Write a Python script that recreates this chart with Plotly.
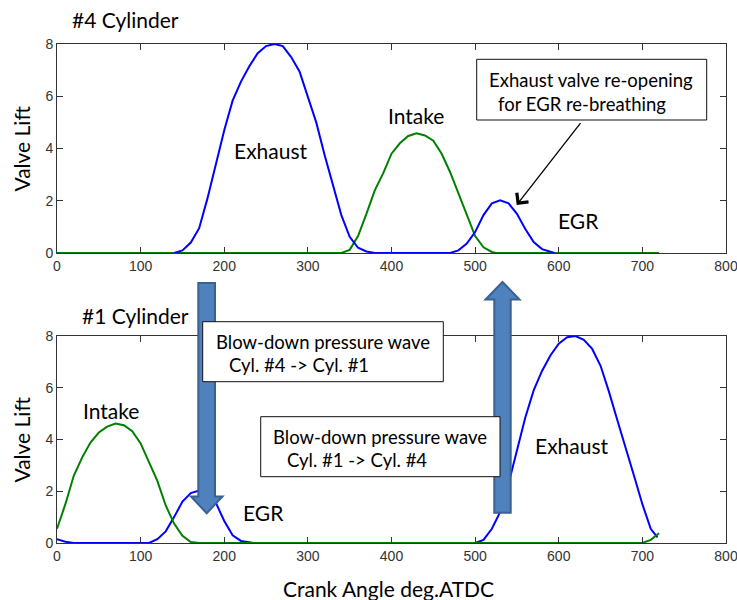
import plotly.graph_objects as go

# ---------------- valve lift data (crank angle in deg, lift in mm) ----------------
x_ticks = [0, 100, 200, 300, 400, 500, 600, 700, 800]
y_ticks = [0, 2, 4, 6, 8]

# Cylinder #4
c4_exh_deg = [140, 150, 160, 170, 180, 190, 200, 210, 220, 230, 240, 250, 260,
              270, 280, 290, 300, 310, 320, 330, 340, 350, 360, 370, 380]
c4_exh_lift = [0.0, 0.1, 0.4, 0.95, 2.1, 3.4, 4.7, 5.83, 6.56, 7.15, 7.65, 7.92, 8.0,
               7.92, 7.5, 6.95, 6.0, 5.0, 3.75, 2.6, 1.45, 0.62, 0.2, 0.06, 0.0]
c4_egr_deg = [470, 480, 490, 500, 510, 520, 530, 540, 550, 560, 570, 580, 590, 595]
c4_egr_lift = [0.0, 0.1, 0.36, 0.8, 1.45, 1.9, 2.02, 1.9, 1.5, 0.92, 0.42, 0.15, 0.05, 0.0]
c4_int_deg = [0, 340, 350, 360, 370, 380, 390, 400, 410, 420, 430, 440, 450,
              460, 470, 480, 490, 500, 510, 520, 525, 720]
c4_int_lift = [0.0, 0.0, 0.12, 0.65, 1.5, 2.4, 3.05, 3.8, 4.2, 4.48, 4.58, 4.5, 4.3,
               3.8, 3.1, 2.3, 1.45, 0.65, 0.22, 0.04, 0.0, 0.0]

# Cylinder #1
c1_tail_deg = [0, 10, 20]
c1_tail_lift = [0.15, 0.05, 0.0]
c1_egr_deg = [110, 120, 130, 140, 150, 160, 170, 180, 190, 200, 210, 220, 230, 235]
c1_egr_lift = [0.0, 0.15, 0.45, 1.0, 1.6, 1.93, 2.03, 1.9, 1.55, 0.85, 0.3, 0.08, 0.03, 0.0]
c1_exh_deg = [500, 510, 520, 530, 540, 550, 560, 570, 580, 590, 600, 610, 620,
              630, 640, 650, 660, 670, 680, 690, 700, 710, 718]
c1_exh_lift = [0.0, 0.12, 0.55, 1.2, 2.3, 3.55, 4.85, 5.9, 6.65, 7.25, 7.7, 7.95, 8.0,
               7.85, 7.5, 6.85, 5.85, 4.75, 3.7, 2.6, 1.5, 0.55, 0.22]
c1_int_deg = [0, 10, 20, 30, 40, 50, 60, 70, 80, 90, 100, 110, 120, 130, 140,
              150, 160, 170, 700, 710, 720]
c1_int_lift = [0.55, 1.5, 2.6, 3.3, 3.88, 4.27, 4.5, 4.62, 4.55, 4.32, 3.85, 3.15, 2.4,
               1.45, 0.75, 0.28, 0.04, 0.0, 0.0, 0.12, 0.38]

BLUE = "#0000FF"
GREEN = "#008000"
ARROW_FILL = "#4F81BD"
ARROW_EDGE = "#3A6190"
TEXT_FONT = "Lato"
TICK_FONT = "Liberation Sans"

W, H = 737, 600
ML, MR, MT, MB = 57, 11, 44, 57
PW, PH = W - ML - MR, H - MT - MB


def px(x):
    """pixel column -> paper x"""
    return (x - ML) / PW


def py(y):
    """pixel row -> paper y"""
    return (H - MB - y) / PH


fig = go.Figure()

fig.add_trace(go.Scatter(x=c4_int_deg, y=c4_int_lift, mode="lines",
                         line=dict(color=GREEN, width=2), xaxis="x", yaxis="y"))
fig.add_trace(go.Scatter(x=c4_exh_deg + c4_egr_deg, y=c4_exh_lift + c4_egr_lift,
                         mode="lines", line=dict(color=BLUE, width=2),
                         xaxis="x", yaxis="y"))
fig.add_trace(go.Scatter(x=c1_tail_deg + c1_egr_deg + c1_exh_deg,
                         y=c1_tail_lift + c1_egr_lift + c1_exh_lift,
                         mode="lines", line=dict(color=BLUE, width=2),
                         xaxis="x2", yaxis="y2"))
fig.add_trace(go.Scatter(x=c1_int_deg, y=c1_int_lift, mode="lines",
                         line=dict(color=GREEN, width=2), xaxis="x2", yaxis="y2"))

axis_common = dict(ticks="inside", ticklen=6, tickcolor="#333", tickwidth=1,
                   showline=True, linecolor="#333", linewidth=1, mirror="ticks",
                   showgrid=False, zeroline=False, automargin=False,
                   tickfont=dict(family=TICK_FONT, size=14, color="#333"))

top_dom = [py(253), py(44)]
bot_dom = [py(543), py(336)]

fig.update_layout(
    width=W, height=H, showlegend=False,
    margin=dict(l=ML, r=MR, t=MT, b=MB, autoexpand=False),
    paper_bgcolor="white", plot_bgcolor="white",
    xaxis=dict(range=[0, 800], tickvals=x_ticks, domain=[0, 1], anchor="y",
               ticklabeloverflow="allow", **axis_common),
    yaxis=dict(range=[0, 8], tickvals=y_ticks, domain=top_dom, anchor="x", **axis_common),
    xaxis2=dict(range=[0, 800], tickvals=x_ticks, domain=[0, 1], anchor="y2",
                ticklabeloverflow="allow", **axis_common),
    yaxis2=dict(range=[0, 8], tickvals=y_ticks, domain=bot_dom, anchor="x2", **axis_common),
)


def poly(points):
    return "M " + " L ".join(f"{px(a):.5f},{py(b):.5f}" for a, b in points) + " Z"


shapes = [
    # blow-down wave #4 -> #1 (downward block arrow)
    dict(type="path", xref="paper", yref="paper", layer="above",
         path=poly([(198.3, 283), (215, 283), (215, 496.5), (222.5, 496.5),
                    (206.7, 513.3), (191, 496.5), (198.3, 496.5)]),
         fillcolor=ARROW_FILL, line=dict(color=ARROW_EDGE, width=2)),
    # blow-down wave #1 -> #4 (upward block arrow)
    dict(type="path", xref="paper", yref="paper", layer="above",
         path=poly([(502.5, 282), (519.5, 299.5), (510.7, 299.5), (510.7, 512.7),
                    (494.3, 512.7), (494.3, 299.5), (485.5, 299.5)]),
         fillcolor=ARROW_FILL, line=dict(color=ARROW_EDGE, width=2)),
]


def box(x0, y0, x1, y1):
    return dict(type="rect", xref="paper", yref="paper", layer="above",
                x0=px(x0), x1=px(x1), y0=py(y1), y1=py(y0),
                fillcolor="white", line=dict(color="#111", width=1))


shapes += [box(476.7, 59.3, 706.7, 120), box(202.7, 321.7, 443.3, 381.7),
           box(260.7, 416.7, 500, 476.7)]
fig.update_layout(shapes=shapes)


def label(text, x, y, size=21, angle=0, xanchor="left"):
    return dict(text=text, xref="paper", yref="paper", x=px(x), y=py(y),
                xanchor=xanchor, yanchor="middle", showarrow=False,
                textangle=angle, borderpad=0, borderwidth=0,
                font=dict(family=TEXT_FONT, size=size, color="black"))


annotations = [
    label("#4 Cylinder", 72, 20),
    label("#1 Cylinder", 82, 315.8),
    label("Valve Lift", 21, 148.5, angle=-90, xanchor="center"),
    label("Valve Lift", 21, 439.5, angle=-90, xanchor="center"),
    label("Crank Angle deg.ATDC", 283, 588),
    label("Exhaust", 234, 150.8),
    label("Intake", 388, 115.5),
    label("EGR", 558.3, 220.3),
    label("Intake", 83, 410),
    label("EGR", 243.3, 512.5),
    label("Exhaust", 535, 445.3),
    label("Exhaust valve re-opening", 489.3, 80, size=18.5),
    label("for EGR re-breathing", 498, 104, size=18.5),
    label("Blow-down pressure wave", 216, 341.5, size=18.5),
    label("Cyl. #4 -> Cyl. #1", 229.3, 365, size=18.5),
    label("Blow-down pressure wave", 273.3, 436.5, size=18.5),
    label("Cyl. #1 -> Cyl. #4", 286.7, 460, size=18.5),
    # pointer from the note to the EGR lobe
    dict(text="", x=549.7, y=1.84, xref="x", yref="y",
         ax=627.4, ay=5.03, axref="x", ayref="y",
         showarrow=True, arrowhead=4, arrowsize=2.2, arrowwidth=1.3,
         arrowcolor="black", standoff=0),
]
fig.update_layout(annotations=annotations)

fig.write_html("out.html")
